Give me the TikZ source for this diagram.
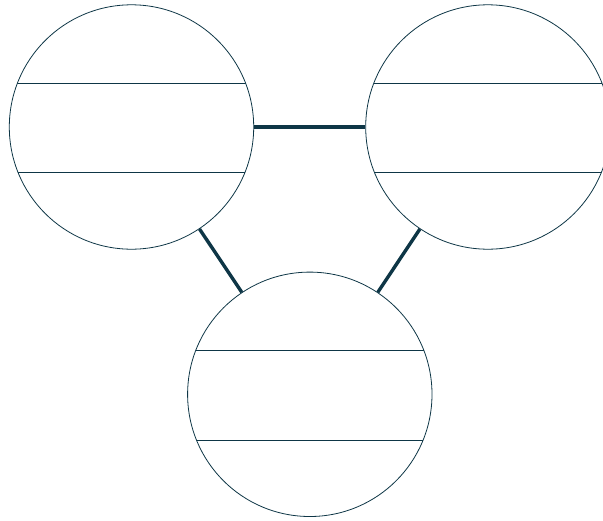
\documentclass[tikz,border=0pt]{standalone}
\definecolor{ink}{RGB}{14,54,70}
\tikzset{
  disc/.style={circle, draw=ink, line width=0.8pt, minimum size=244.4pt, inner sep=0pt,
    path picture={
      \draw[ink, line width=0.8pt]
        ([yshift=43.7pt]path picture bounding box.west) -- ([yshift=43.7pt]path picture bounding box.east)
        ([yshift=-45.6pt]path picture bounding box.west) -- ([yshift=-45.6pt]path picture bounding box.east);
    }},
  conn/.style={draw=ink, line width=3.4pt}
}
\begin{document}
\begin{tikzpicture}[x=1pt,y=1pt]
\useasboundingbox (0,0) rectangle (603,-520);
\clip (0,0) rectangle (603,-520);
\node[disc] (c1) at (131.5,-127) {};
\node[disc] (c2) at (487.9,-127) {};
\node[disc] (c3) at (309.8,-394.3) {};
\draw[conn] (c1) -- (c2);
\draw[conn] (c1) -- (c3);
\draw[conn] (c2) -- (c3);
\end{tikzpicture}
\end{document}
